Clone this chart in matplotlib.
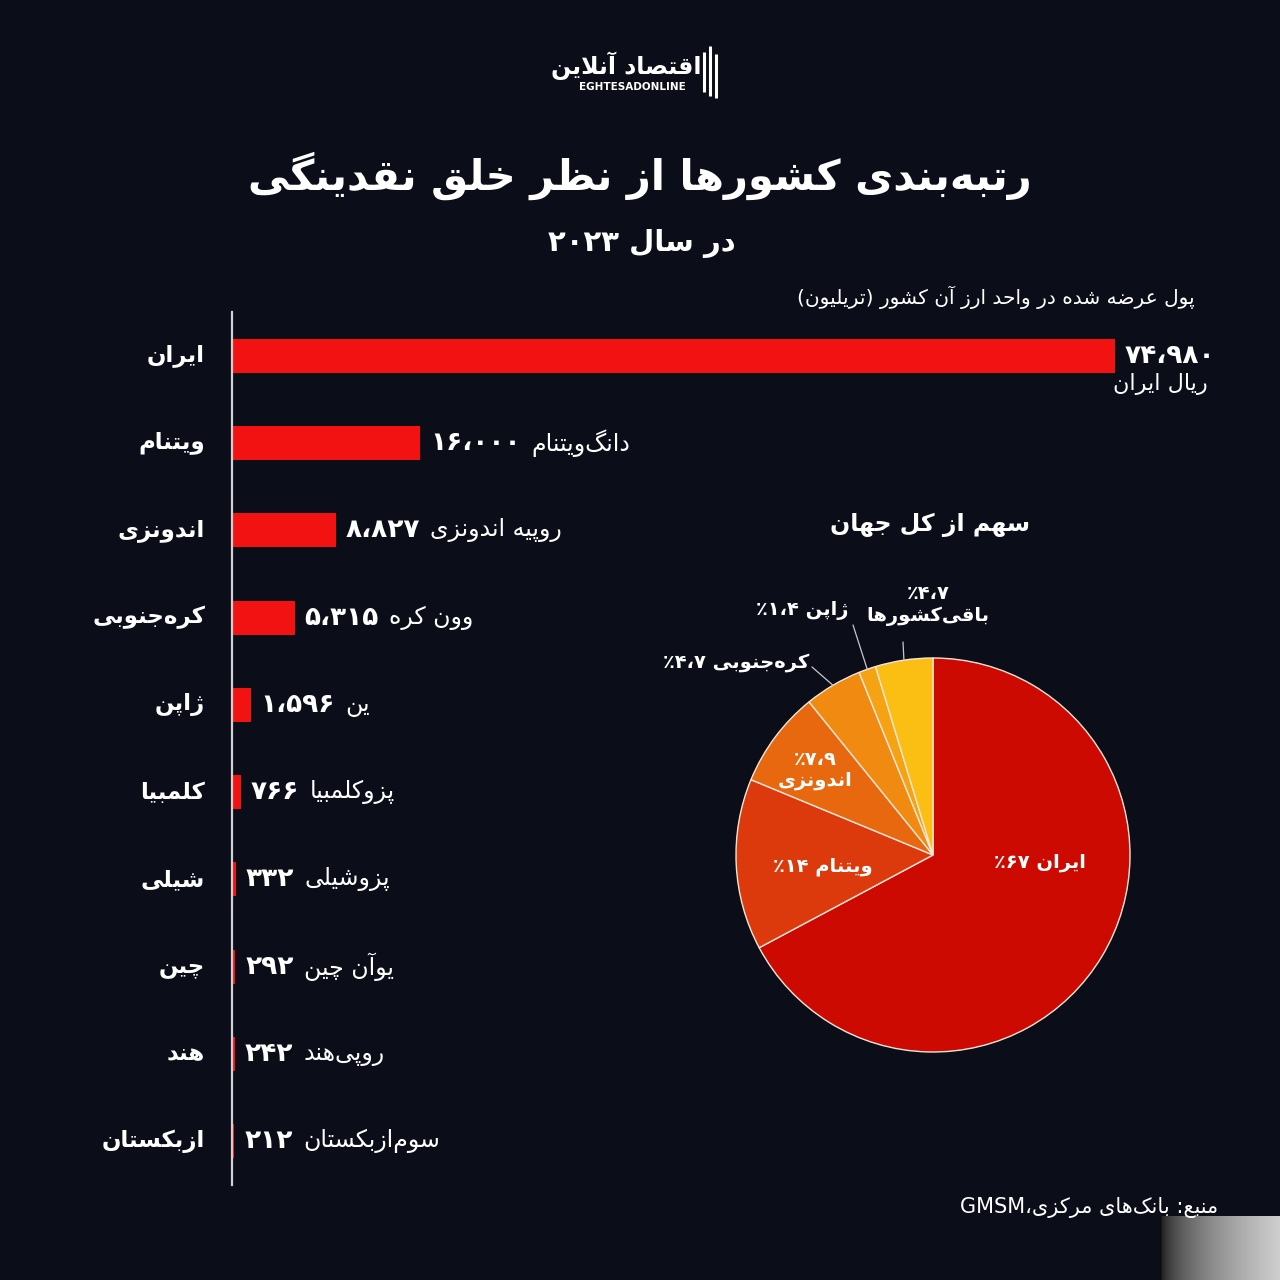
import re
import numpy as np
import matplotlib.pyplot as plt

# ---- data ----
countries = ['ایران', 'ویتنام', 'اندونزی', 'کره\u200cجنوبی', 'ژاپن',
             'کلمبیا', 'شیلی', 'چین', 'هند', 'ازبکستان']
currencies = ['ریال ایران', 'دانگ\u200cویتنام', 'روپیه اندونزی', 'وون کره', 'ین',
              'پزوکلمبیا', 'پزوشیلی', 'یوآن چین', 'روپی\u200cهند', 'سوم\u200cازبکستان']
money = [74980, 16000, 8827, 5315, 1596, 766, 332, 292, 242, 212]

share_names = ['ایران', 'ویتنام', 'اندونزی', 'کره\u200cجنوبی', 'ژاپن', 'باقی\u200cکشورها']
share_pct = [67, 14, 7.9, 4.7, 1.4, 4.7]
share_colors = ['#cc0a02', '#dc3a0c', '#e8680f', '#f08a10', '#f5a312', '#fbbf14']

title = 'رتبه\u200cبندی کشورها از نظر خلق نقدینگی'
subtitle = 'در سال ۲۰۲۳'
unit_label = 'پول عرضه شده در واحد ارز آن کشور (تریلیون)'
pie_title = 'سهم از کل جهان'
source = 'منبع: بانک\u200cهای مرکزی،GMSM'

BG = '#0b0d19'
BAR = '#f21212'


# ---- tiny persian shaper (matplotlib has no RTL/joining) ----
def _forms():
    t = {}
    tab = [('ا', 0xFE8D, 2), ('آ', 0xFE81, 2), ('ب', 0xFE8F, 4), ('ت', 0xFE95, 4), ('ث', 0xFE99, 4),
           ('ج', 0xFE9D, 4), ('ح', 0xFEA1, 4), ('خ', 0xFEA5, 4), ('د', 0xFEA9, 2), ('ذ', 0xFEAB, 2),
           ('ر', 0xFEAD, 2), ('ز', 0xFEAF, 2), ('س', 0xFEB1, 4), ('ش', 0xFEB5, 4), ('ص', 0xFEB9, 4),
           ('ض', 0xFEBD, 4), ('ط', 0xFEC1, 4), ('ظ', 0xFEC5, 4), ('ع', 0xFEC9, 4), ('غ', 0xFECD, 4),
           ('ف', 0xFED1, 4), ('ق', 0xFED5, 4), ('ل', 0xFEDD, 4), ('م', 0xFEE1, 4), ('ن', 0xFEE5, 4),
           ('ه', 0xFEE9, 4), ('و', 0xFEED, 2), ('پ', 0xFB56, 4), ('چ', 0xFB7A, 4), ('ژ', 0xFB8A, 2),
           ('ک', 0xFB8E, 4), ('گ', 0xFB92, 4), ('ی', 0xFBFC, 4)]
    for ch, base, n in tab:
        t[ch] = [chr(base + k) for k in range(n)]
    return t


FORMS = _forms()


def _dual(c):
    return c in FORMS and len(FORMS[c]) == 4


def shape(s):
    out = []
    i = 0
    while i < len(s):
        c = s[i]
        if c not in FORMS:
            if c != '\u200c':
                out.append(c)
            i += 1
            continue
        jp = i > 0 and _dual(s[i - 1])
        if c == 'ل' and i + 1 < len(s) and s[i + 1] in 'اآ':
            lig = {'ا': ('\uFEFB', '\uFEFC'), 'آ': ('\uFEF5', '\uFEF6')}[s[i + 1]]
            out.append(lig[1] if jp else lig[0])
            i += 2
            continue
        jn = _dual(c) and i + 1 < len(s) and s[i + 1] in FORMS
        f = FORMS[c]
        out.append(f[3] if (jp and jn) else f[1] if jp else f[2] if jn else f[0])
        i += 1
    return ''.join(out)


MIRROR = {'(': ')', ')': '('}
LTR = r'[0-9A-Za-z\u06F0-\u06F9]'


def fa(s):
    lines = []
    for line in s.split('\n'):
        sh = shape(line)
        runs = re.findall(LTR + r'+(?:[\u060C.]' + r'[0-9\u06F0-\u06F9]+)*|[^0-9A-Za-z\u06F0-\u06F9]+', sh)
        vis = []
        for r in reversed(runs):
            if re.match(LTR, r):
                vis.append(r)
            else:
                vis.append(''.join(MIRROR.get(c, c) for c in reversed(r)))
        lines.append(''.join(vis))
    return '\n'.join(lines)


def fa_num(v):
    return f'{v:,}'.translate(str.maketrans('0123456789,.', '۰۱۲۳۴۵۶۷۸۹\u060C\u060C'))


plt.rcParams['font.family'] = ['DejaVu Sans']

fig = plt.figure(figsize=(12.8, 12.8), dpi=100, facecolor=BG)
W = H = 1280.0

# ---- bar chart ----
ax = fig.add_axes([232 / W, (H - 1185) / H, 883 / W, 873 / H])
ax.set_facecolor('none')
ypos = np.arange(len(countries))
ax.barh(ypos, money, height=0.39, color=BAR, zorder=2)
ax.set_xlim(0, max(money))
ax.set_ylim(len(countries) - 0.5, -0.5)
for sp in ['top', 'right', 'bottom']:
    ax.spines[sp].set_visible(False)
ax.spines['left'].set_color('#cfcfd4')
ax.spines['left'].set_linewidth(1.6)
ax.spines['left'].set_zorder(3)
ax.set_xticks([])
ax.set_yticks([])

for i, (c, cur, v) in enumerate(zip(countries, currencies, money)):
    ax.annotate(fa(c), xy=(0, i), xytext=(-27, 0), textcoords='offset pixels',
                ha='right', va='center', color='white', fontsize=16.5, fontweight='bold')
    num = ax.annotate(fa_num(v), xy=(v, i), xytext=(10, 0), textcoords='offset pixels',
                      ha='left', va='center', color='white', fontsize=19, fontweight='bold',
                      annotation_clip=False)
    if i == 0:
        ax.annotate(fa(cur), xy=(1, 0), xycoords=num, xytext=(-8, -4), textcoords='offset pixels',
                    ha='right', va='top', color='white', fontsize=16)
    else:
        ax.annotate(fa(cur), xy=(1, 0.5), xycoords=num, xytext=(10, 0), textcoords='offset pixels',
                    ha='left', va='center', color='white', fontsize=17)

# ---- pie ----
pax = fig.add_axes([736 / W, (H - 1052) / H, 394 / W, 394 / H])
wedges, _ = pax.pie(share_pct, colors=share_colors, startangle=90, counterclock=False,
                    wedgeprops=dict(edgecolor='#f3e6d8', linewidth=1.0))
pax.set_xlim(-1, 1)
pax.set_ylim(-1, 1)
pax.set_aspect('equal')

lab = dict(xycoords='figure pixels', ha='center', va='center', color='white', fontweight='bold')
# inside labels
pax.annotate(fa(share_names[0] + ' ' + fa_num(share_pct[0]) + '٪'), xy=(1040, H - 862),
             fontsize=14, **lab)
pax.annotate(fa(share_names[1] + ' ' + fa_num(share_pct[1]) + '٪'), xy=(823, H - 867),
             fontsize=14, **lab)
pax.annotate(fa(fa_num(share_pct[2]) + '٪\n' + share_names[2]), xy=(815, H - 770),
             fontsize=14, linespacing=1.15, **lab)


# outside labels with leader lines
def edge_point(w, frac=0.5):
    a = np.deg2rad(w.theta1 + (w.theta2 - w.theta1) * frac)
    return np.cos(a), np.sin(a)


lp = dict(arrowstyle='-', color='#c8c8c8', lw=0.9, shrinkA=0, shrinkB=0)
for k, start in [(3, (812, 667)), (4, (853, 625)), (5, (903, 642))]:
    pax.annotate('', xy=edge_point(wedges[k]), xytext=(start[0], H - start[1]),
                 textcoords='figure pixels', arrowprops=lp)

pax.annotate(fa(share_names[3] + ' ' + fa_num(share_pct[3]) + '٪'), xy=(736, H - 662),
             fontsize=14, **lab)
pax.annotate(fa(share_names[4] + ' ' + fa_num(share_pct[4]) + '٪'), xy=(802, H - 610),
             fontsize=14, **lab)
pax.annotate(fa(fa_num(share_pct[5]) + '٪\n' + share_names[5]), xy=(928, H - 605),
             fontsize=14, linespacing=1.15, **lab)

# ---- texts ----
ov = fig.add_axes([0, 0, 1, 1])
ov.set_xlim(0, W)
ov.set_ylim(H, 0)
ov.axis('off')
ov.patch.set_visible(False)

ov.text(640, 176, fa(title), ha='center', va='center', color='white', fontsize=30, fontweight='bold')
ov.text(642, 243, fa(subtitle), ha='center', va='center', color='white', fontsize=21, fontweight='bold')
ov.text(1195, 297, fa(unit_label), ha='right', va='center', color='white', fontsize=14.5)
ov.text(930, 525, fa(pie_title), ha='center', va='center', color='white', fontsize=17, fontweight='bold')
ov.text(1218, 1208, fa(source), ha='right', va='center', color='white', fontsize=15)

# logo
ov.text(626, 66, fa('اقتصاد آنلاین'), ha='center', va='center', color='white', fontsize=17, fontweight='bold')
ov.text(632, 87, 'EGHTESADONLINE', ha='center', va='center', color='white', fontsize=7.5, fontweight='bold')
for bx, by0, by1 in [(704, 52, 92), (710, 46, 96), (716, 54, 98)]:
    ov.plot([bx, bx], [by0, by1], color='white', lw=2.2, solid_capstyle='butt')

# corner watermark box
grad = np.linspace(0, 1, 100)[None, :] ** 0.5
ov.imshow(grad, extent=(1160, 1280, 1280, 1216), cmap='gray', vmin=-0.05, vmax=1.25,
          aspect='auto', zorder=1)
ov.set_xlim(0, W)
ov.set_ylim(H, 0)

fig.savefig('out.png', dpi=100, facecolor=BG)
